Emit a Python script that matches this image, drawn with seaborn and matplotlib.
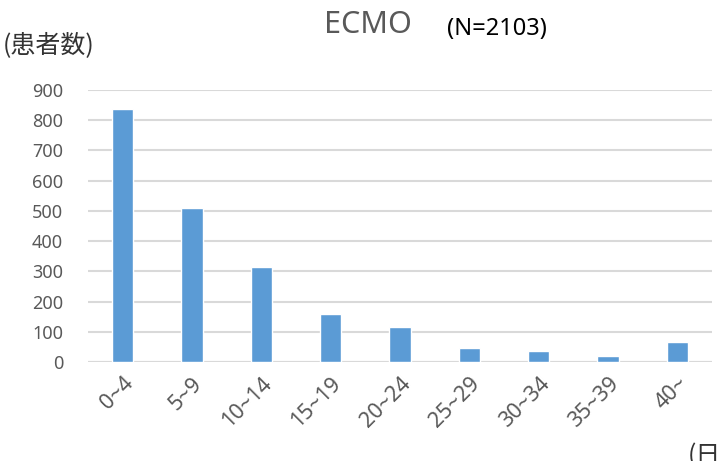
import pandas as pd
import seaborn as sns
import matplotlib.pyplot as plt

# ECMO duration (days) vs number of patients
categories = ['0~4', '5~9', '10~14', '15~19', '20~24', '25~29', '30~34', '35~39', '40~']
patients = [836, 508, 315, 160, 115, 45, 35, 20, 66]
yticks = [0, 100, 200, 300, 400, 500, 600, 700, 800, 900]

df = pd.DataFrame({'days': categories, 'patients': patients})

sns.set_style('white')
plt.rcParams['font.family'] = ['Noto Sans', 'Noto Sans CJK JP', 'DejaVu Sans']

fig = plt.figure(figsize=(7.17, 4.61), dpi=100)
ax = fig.add_axes([88 / 717, 1 - 362 / 461, (712 - 88) / 717, (362 - 90) / 461])

sns.barplot(data=df, x='days', y='patients', color='#5B9BD5', width=0.31,
            saturation=1, ax=ax, zorder=3)

ax.set_ylim(0, 900)
ax.set_yticks(yticks)
ax.set_xlim(-0.5, len(categories) - 0.5)
ax.grid(axis='y', color='#D9D9D9', linewidth=1.5, zorder=0)
for s in ['top', 'right', 'left', 'bottom']:
    ax.spines[s].set_visible(False)
ax.axhline(0, color='#D9D9D9', linewidth=1.5, zorder=2)

ax.set_xlabel('')
ax.set_ylabel('')
ax.tick_params(axis='y', length=0, labelsize=13, labelcolor='#595959', pad=18)
ax.tick_params(axis='x', length=0, labelsize=15.5, labelcolor='#595959', pad=8)
plt.setp(ax.get_xticklabels(), rotation=45, ha='right', rotation_mode='anchor')
for lbl in ax.get_xticklabels():
    lbl.set_x(lbl.get_position()[0])

fig.text(324 / 717, 1 - 25 / 461, 'ECMO', fontsize=22, color='#595959', va='center')
fig.text(447 / 717, 1 - 29 / 461, '(N=2103)', fontsize=17, color='black', va='center')
fig.text(3 / 717, 1 - 45 / 461, '(患者数)', fontsize=18, color='#333333', va='center', ha='left',
         family=['Noto Sans CJK JP', 'DejaVu Sans'])
fig.text(688 / 717, 1 - 455 / 461, '(日数)', fontsize=18, color='#333333', va='center', ha='left',
         family=['Noto Sans CJK JP', 'DejaVu Sans'])

fig.savefig('out.png', dpi=100)
